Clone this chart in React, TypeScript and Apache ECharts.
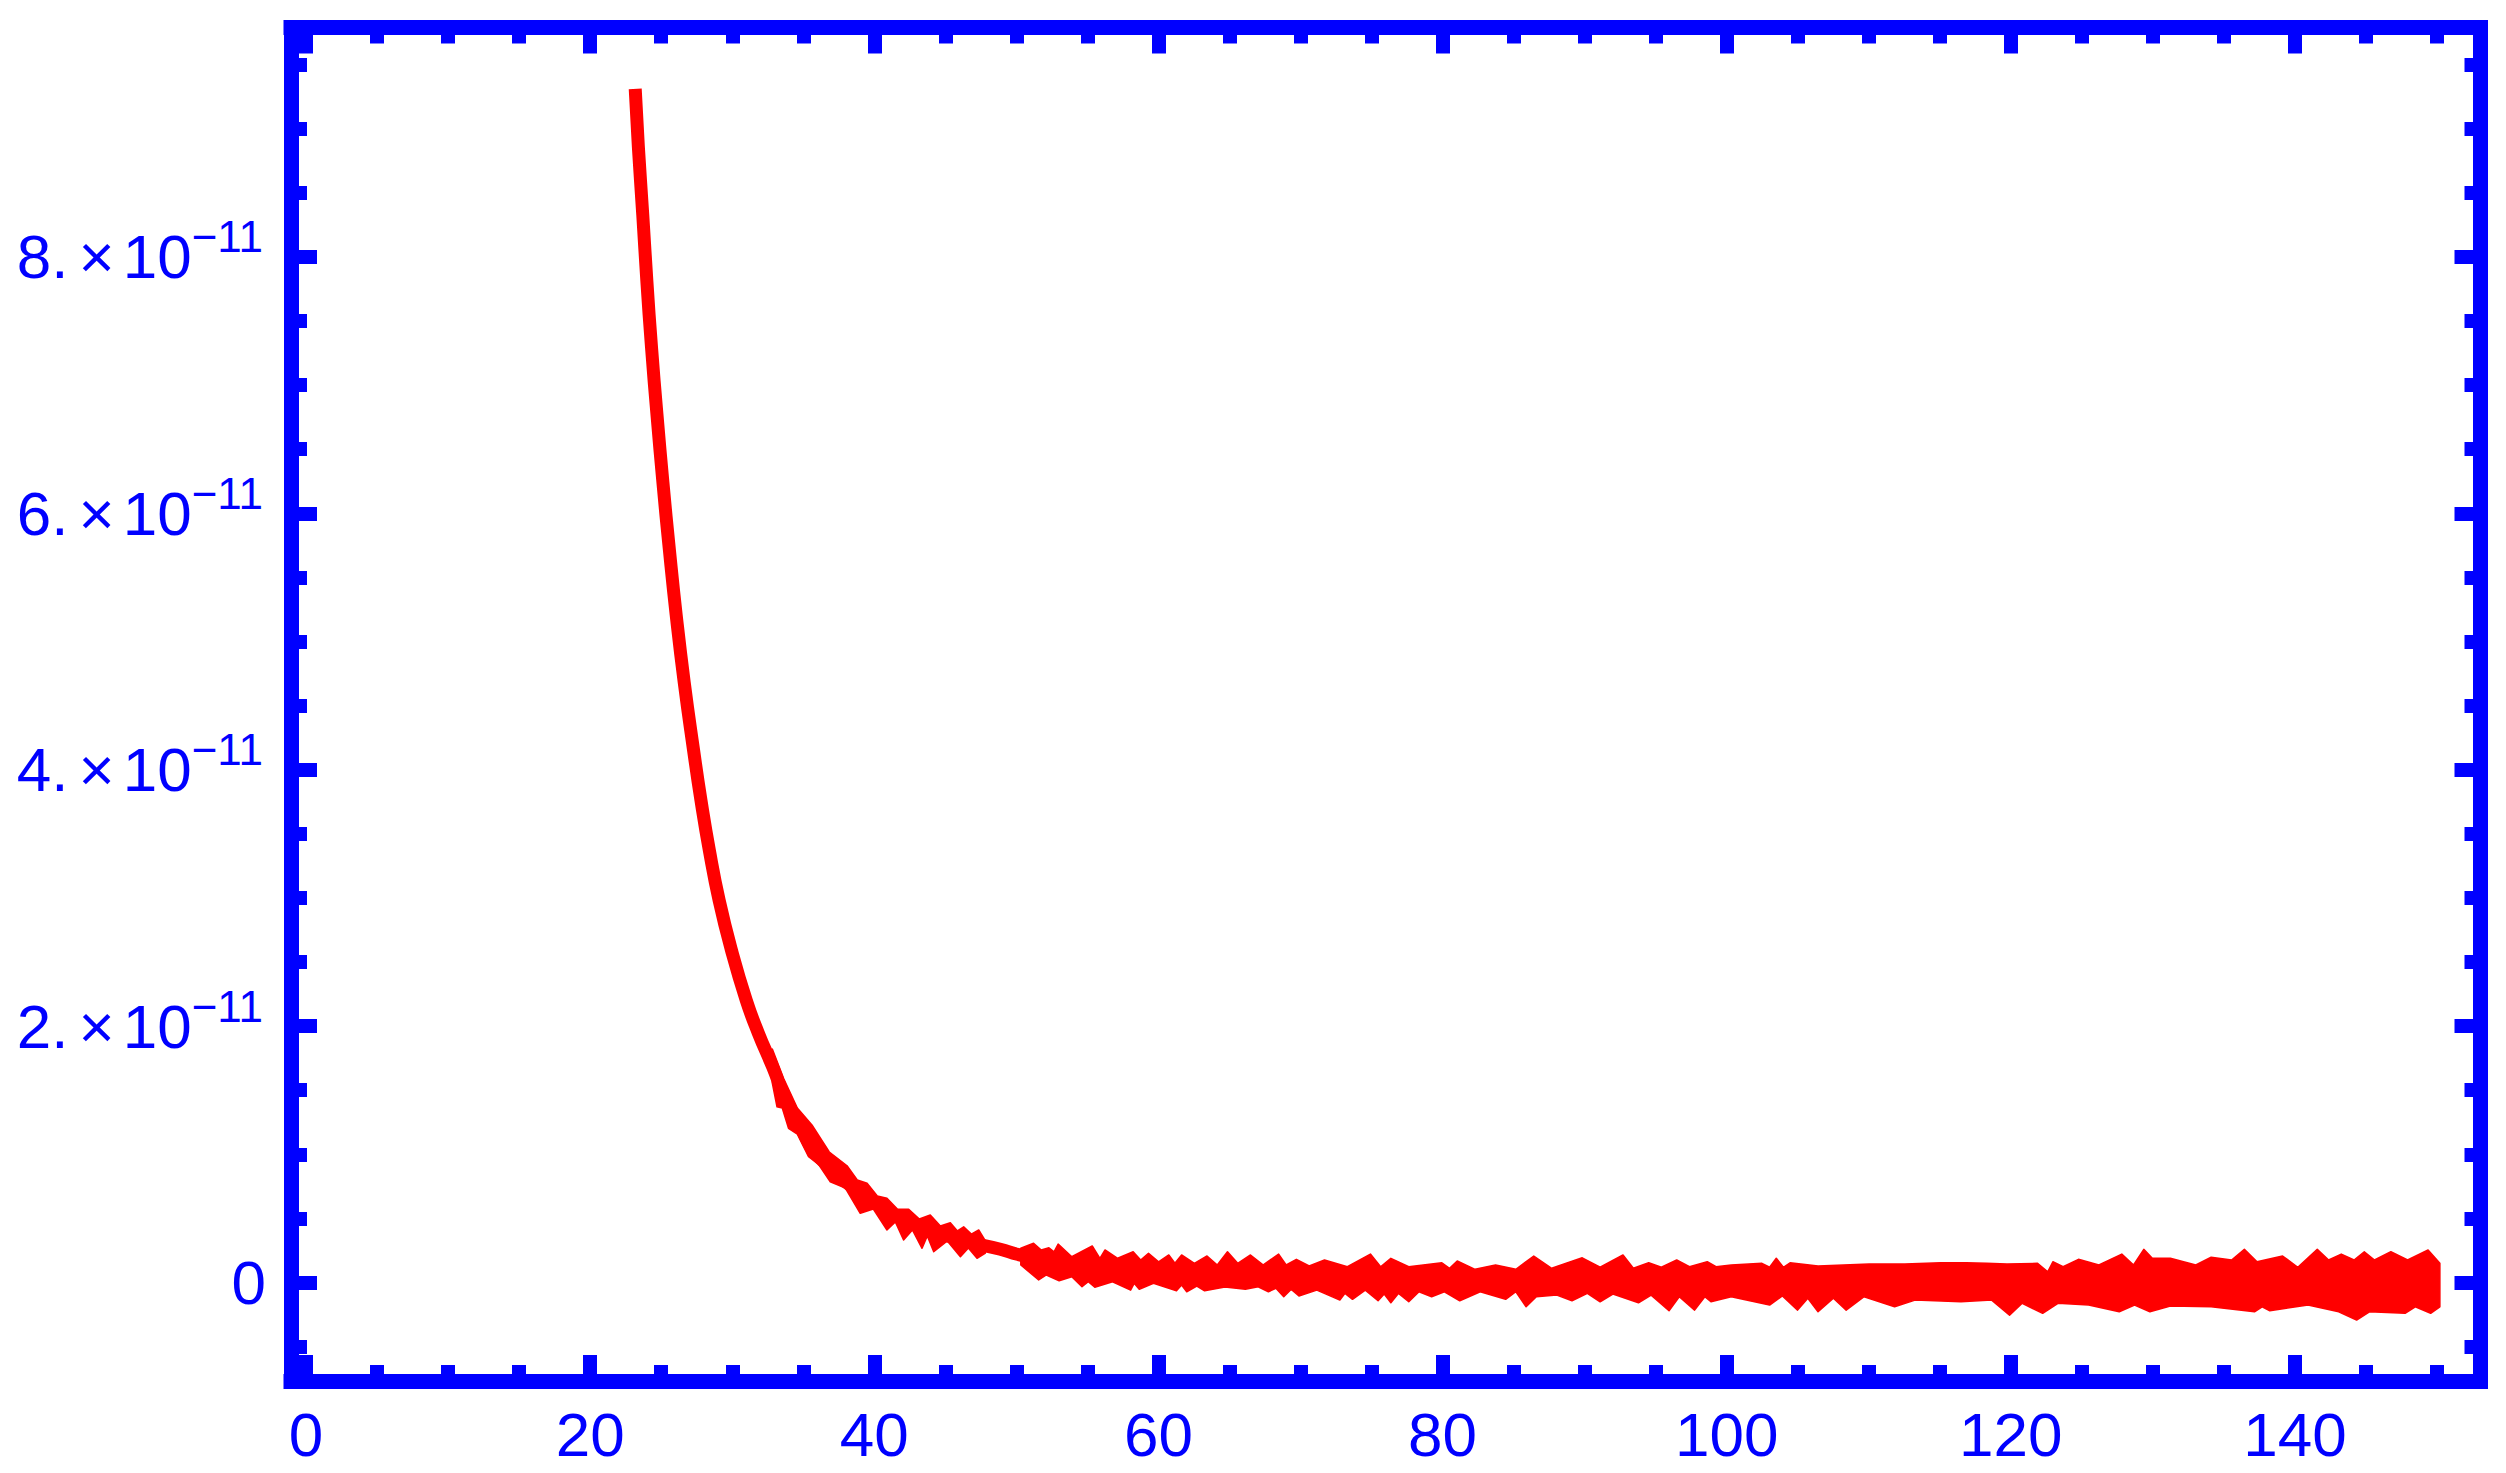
import React, { useEffect, useRef } from 'react';
import * as echarts from 'echarts';

// y values are in units of 1e-11
const Y_EXPONENT = '−11';

const X_MIN = -1.06;
const X_MAX = 153.06;
const Y_MIN = -0.768;
const Y_MAX = 9.789;

const X_MAJOR = [0, 20, 40, 60, 80, 100, 120, 140];
const X_MINOR = [5, 10, 15, 25, 30, 35, 45, 50, 55, 65, 70, 75, 85, 90, 95, 105, 110, 115, 125, 130, 135, 145, 150];
const Y_MAJOR = [0, 2, 4, 6, 8];
const Y_MINOR = [-0.5, 0.5, 1, 1.5, 2.5, 3, 3.5, 4.5, 5, 5.5, 6.5, 7, 7.5, 8.5, 9, 9.5];

// central trend of the curve
const TREND: [number, number][] = [
  [23.17, 9.31], [23.39, 8.86], [23.7, 8.33], [23.99, 7.81], [24.32, 7.29], [24.7, 6.77],
  [25.12, 6.24], [25.57, 5.72], [26.06, 5.2], [26.62, 4.68], [27.28, 4.15], [27.8, 3.76],
  [28.39, 3.37], [29.08, 2.98], [29.95, 2.59], [30.99, 2.2], [31.82, 1.95], [32.85, 1.68],
  [33.79, 1.42], [34.79, 1.22], [35.7, 1.03], [36.76, 0.91], [37.82, 0.8], [39.51, 0.66],
  [41.13, 0.55], [41.83, 0.5], [44.15, 0.4], [46.55, 0.32], [48.87, 0.26], [50.07, 0.22],
  [51.2, 0.19], [54.72, 0.11], [56.06, 0.1], [63.24, 0.066], [70.42, 0.035], [77.61, 0.012],
  [84.79, 0.0], [91.97, 0.004], [99.15, 0.004], [105.2, 0.008], [119.3, 0.006], [133.4, 0.006],
  [150, 0.006],
];

// outer edges of the noisy band, first section
const EARLY_UPPER: [number, number][] = [
  [32.82, 1.821], [33.61, 1.593], [34.58, 1.361], [35.61, 1.229], [36.83, 1.018], [38.08, 0.911],
  [38.8, 0.8], [39.49, 0.774], [40.21, 0.675], [40.89, 0.657], [41.62, 0.573], [42.42, 0.571],
  [43.17, 0.495], [43.94, 0.527], [44.65, 0.441], [45.35, 0.466], [45.85, 0.402], [46.29, 0.435],
  [46.83, 0.378], [47.35, 0.41], [47.82, 0.324],
];
const EARLY_LOWER: [number, number][] = [
  [32.82, 1.556], [33.15, 1.371], [33.52, 1.361], [33.96, 1.203], [34.58, 1.158], [35.37, 0.981],
  [36.06, 0.924], [36.9, 0.786], [37.96, 0.737], [39.01, 0.54], [39.93, 0.573], [40.89, 0.41],
  [41.48, 0.472], [42.06, 0.332], [42.68, 0.41], [43.36, 0.267], [43.73, 0.363], [44.18, 0.24],
  [45.14, 0.324], [46.06, 0.201], [46.62, 0.269], [47.23, 0.189], [47.82, 0.23],
];

// outer edges of the noisy band, tail section
const TAIL_UPPER: [number, number][] = [
  [50.31, 0.267], [51.21, 0.306], [51.75, 0.254], [52.29, 0.271], [52.65, 0.24], [52.94, 0.3],
  [53.9, 0.201], [55.34, 0.285], [55.88, 0.189], [56.24, 0.254], [57.13, 0.189], [58.22, 0.24],
  [58.75, 0.176], [59.3, 0.228], [60.01, 0.162], [60.73, 0.215], [61.16, 0.15], [61.63, 0.215],
  [62.53, 0.15], [63.42, 0.207], [64.14, 0.137], [64.86, 0.24], [65.58, 0.15], [66.48, 0.215],
  [67.38, 0.137], [68.46, 0.222], [68.99, 0.137], [69.71, 0.181], [70.61, 0.129], [71.69, 0.176],
  [73.3, 0.123], [74.92, 0.222], [75.64, 0.123], [76.36, 0.189], [77.62, 0.123], [79.95, 0.154],
  [80.49, 0.111], [81.03, 0.168], [82.29, 0.103], [83.73, 0.137], [85.16, 0.103], [86.42, 0.207],
  [87.68, 0.111], [89.83, 0.193], [91.09, 0.119], [92.7, 0.215], [93.43, 0.111], [94.51, 0.154],
  [95.4, 0.119], [96.48, 0.176], [97.38, 0.123], [98.63, 0.162], [99.25, 0.123], [100.32, 0.137],
  [102.48, 0.15], [103.02, 0.119], [103.49, 0.189], [103.99, 0.119], [104.46, 0.154], [106.43, 0.129],
  [110.03, 0.144], [112.54, 0.144], [115.06, 0.154], [116.85, 0.154], [118.29, 0.15], [119.73, 0.144],
  [121.88, 0.15], [122.6, 0.084], [122.96, 0.162], [123.68, 0.123], [124.76, 0.181], [126.2, 0.137],
  [127.81, 0.222], [128.64, 0.137], [129.36, 0.259], [129.96, 0.189], [131.23, 0.189], [133.02, 0.137],
  [134.1, 0.197], [135.54, 0.176], [136.44, 0.259], [137.33, 0.162], [139.13, 0.207], [140.2, 0.119],
  [141.57, 0.259], [142.37, 0.176], [143.26, 0.222], [144.16, 0.176], [144.88, 0.24], [145.6, 0.176],
  [146.75, 0.24], [147.93, 0.176], [149.37, 0.254], [150.2, 0.15],
];
const TAIL_LOWER: [number, number][] = [
  [50.31, 0.137], [51.57, 0.02], [52.11, 0.059], [53.01, 0.014], [53.9, 0.045], [54.62, -0.033],
  [55.06, 0.006], [55.52, -0.037], [56.77, 0.006], [58.04, -0.059], [58.29, -0.006], [58.65, -0.053],
  [59.65, -0.006], [61.27, -0.064], [61.63, -0.02], [61.99, -0.072], [62.7, -0.027], [63.25, -0.064],
  [64.68, -0.035], [66.12, -0.053], [67.02, -0.033], [67.74, -0.072], [68.27, -0.045], [68.82, -0.111],
  [69.35, -0.053], [69.89, -0.105], [71.15, -0.059], [72.77, -0.137], [73.13, -0.084], [73.66, -0.131],
  [74.56, -0.059], [75.46, -0.142], [75.89, -0.09], [76.36, -0.158], [76.9, -0.084], [77.62, -0.15],
  [78.34, -0.072], [79.23, -0.111], [80.13, -0.072], [81.21, -0.142], [82.65, -0.072], [84.44, -0.131],
  [85.16, -0.072], [85.88, -0.189], [86.6, -0.111], [88.04, -0.098], [89.11, -0.142], [90.19, -0.084],
  [91.09, -0.15], [91.99, -0.09], [93.79, -0.158], [94.68, -0.098], [95.94, -0.22], [96.66, -0.111],
  [97.74, -0.215], [98.46, -0.111], [98.89, -0.15], [100.32, -0.111], [103.02, -0.176], [103.92, -0.105],
  [104.99, -0.215], [105.71, -0.123], [106.43, -0.228], [107.51, -0.123], [108.41, -0.215], [109.67, -0.111],
  [111.82, -0.189], [113.26, -0.137], [116.49, -0.15], [118.65, -0.137], [119.91, -0.254], [120.8, -0.162],
  [122.24, -0.24], [123.32, -0.162], [125.48, -0.176], [127.63, -0.228], [128.71, -0.176], [129.79, -0.228],
  [131.23, -0.183], [134.1, -0.189], [137.15, -0.228], [137.69, -0.189], [138.23, -0.22], [140.92, -0.176],
  [143.08, -0.228], [144.34, -0.293], [145.24, -0.228], [147.75, -0.24], [148.47, -0.189], [149.55, -0.24],
  [150.2, -0.189],
];

const BANDS = [
  { upper: EARLY_UPPER, lower: EARLY_LOWER },
  { upper: TAIL_UPPER, lower: TAIL_LOWER },
];

const BLUE = '#0000ff';
const RED = '#ff0000';
const FONT = "'Liberation Sans', Arial, sans-serif";

const FRAME_W = 15;
const TICK_W = 14;
const MAJOR_LEN = 26;
const MINOR_LEN = 16;

function xAxis(position: string, ticks: number[], len: number, line: boolean, labels: boolean) {
  return {
    type: 'value',
    position,
    min: X_MIN,
    max: X_MAX,
    axisLine: { show: line, onZero: false, lineStyle: { color: BLUE, width: FRAME_W, cap: 'square' } },
    axisTick: { show: true, inside: true, length: len, customValues: ticks, lineStyle: { color: BLUE, width: TICK_W } },
    axisLabel: labels
      ? {
          show: true,
          customValues: ticks,
          color: BLUE,
          fontSize: 62,
          lineHeight: 62,
          fontFamily: FONT,
          margin: 22,
          formatter: (v: number) => String(v),
        }
      : { show: false },
    splitLine: { show: false },
    minorTick: { show: false },
    minorSplitLine: { show: false },
  };
}

function yAxis(position: string, ticks: number[], len: number, line: boolean, labels: boolean) {
  return {
    type: 'value',
    position,
    min: Y_MIN,
    max: Y_MAX,
    axisLine: { show: line, onZero: false, lineStyle: { color: BLUE, width: FRAME_W, cap: 'square' } },
    axisTick: { show: true, inside: true, length: len, customValues: ticks, lineStyle: { color: BLUE, width: TICK_W } },
    axisLabel: labels
      ? {
          show: true,
          customValues: ticks,
          color: BLUE,
          fontSize: 62,
          lineHeight: 62,
          fontFamily: FONT,
          margin: 25,
          formatter: (v: number) => (v === 0 ? '0' : `{m|${v}.}{x|×}{m|10}{s|${Y_EXPONENT}}`),
          rich: {
            m: { fontSize: 62, lineHeight: 84, color: BLUE, fontFamily: FONT },
            x: { fontSize: 62, lineHeight: 84, color: BLUE, fontFamily: FONT, padding: [0, 8, 0, 10] },
            s: { fontSize: 44, lineHeight: 50, color: BLUE, fontFamily: FONT, verticalAlign: 'top', padding: [0, 3, 0, 0] },
          },
        }
      : { show: false },
    splitLine: { show: false },
    minorTick: { show: false },
    minorSplitLine: { show: false },
  };
}

export default function App() {
  const ref = useRef<HTMLDivElement>(null);
  useEffect(() => {
    if (!ref.current) return;
    const chart = echarts.init(ref.current, null, { renderer: 'svg' });
    const option: any = {
      animation: false,
      backgroundColor: '#ffffff',
      grid: {
        left: 291,
        right: 25.5,
        top: 27.5,
        bottom: 92,
        containLabel: false,
        outerBoundsMode: 'none',
      },
      xAxis: [
        xAxis('bottom', X_MAJOR, MAJOR_LEN, true, true),
        xAxis('bottom', X_MINOR, MINOR_LEN, false, false),
        xAxis('top', X_MAJOR, MAJOR_LEN, true, false),
        xAxis('top', X_MINOR, MINOR_LEN, false, false),
      ],
      yAxis: [
        yAxis('left', Y_MAJOR, MAJOR_LEN, true, true),
        yAxis('left', Y_MINOR, MINOR_LEN, false, false),
        yAxis('right', Y_MAJOR, MAJOR_LEN, true, false),
        yAxis('right', Y_MINOR, MINOR_LEN, false, false),
      ],
      series: [
        {
          type: 'line',
          xAxisIndex: 0,
          yAxisIndex: 0,
          data: TREND,
          symbol: 'none',
          showSymbol: false,
          smooth: 0.5,
          lineStyle: { color: RED, width: 13, cap: 'butt', join: 'round' },
          silent: true,
        },
        {
          type: 'custom',
          xAxisIndex: 0,
          yAxisIndex: 0,
          data: [[40, 0.5], [100, 0]],
          silent: true,
          renderItem: (params: any, api: any) => {
            const band = BANDS[params.dataIndex];
            const pts = band.upper
              .map((p) => api.coord(p))
              .concat(band.lower.slice().reverse().map((p) => api.coord(p)));
            return {
              type: 'polygon',
              shape: { points: pts },
              style: { fill: RED, stroke: RED, lineWidth: 1.5, lineJoin: 'round' },
            };
          },
        },
      ],
    };
    chart.setOption(option);
    return () => chart.dispose();
  }, []);
  return (
    <div
      ref={ref}
      style={{ position: 'absolute', left: 0, top: 0, width: 2506, height: 1473, background: '#ffffff' }}
    />
  );
}
